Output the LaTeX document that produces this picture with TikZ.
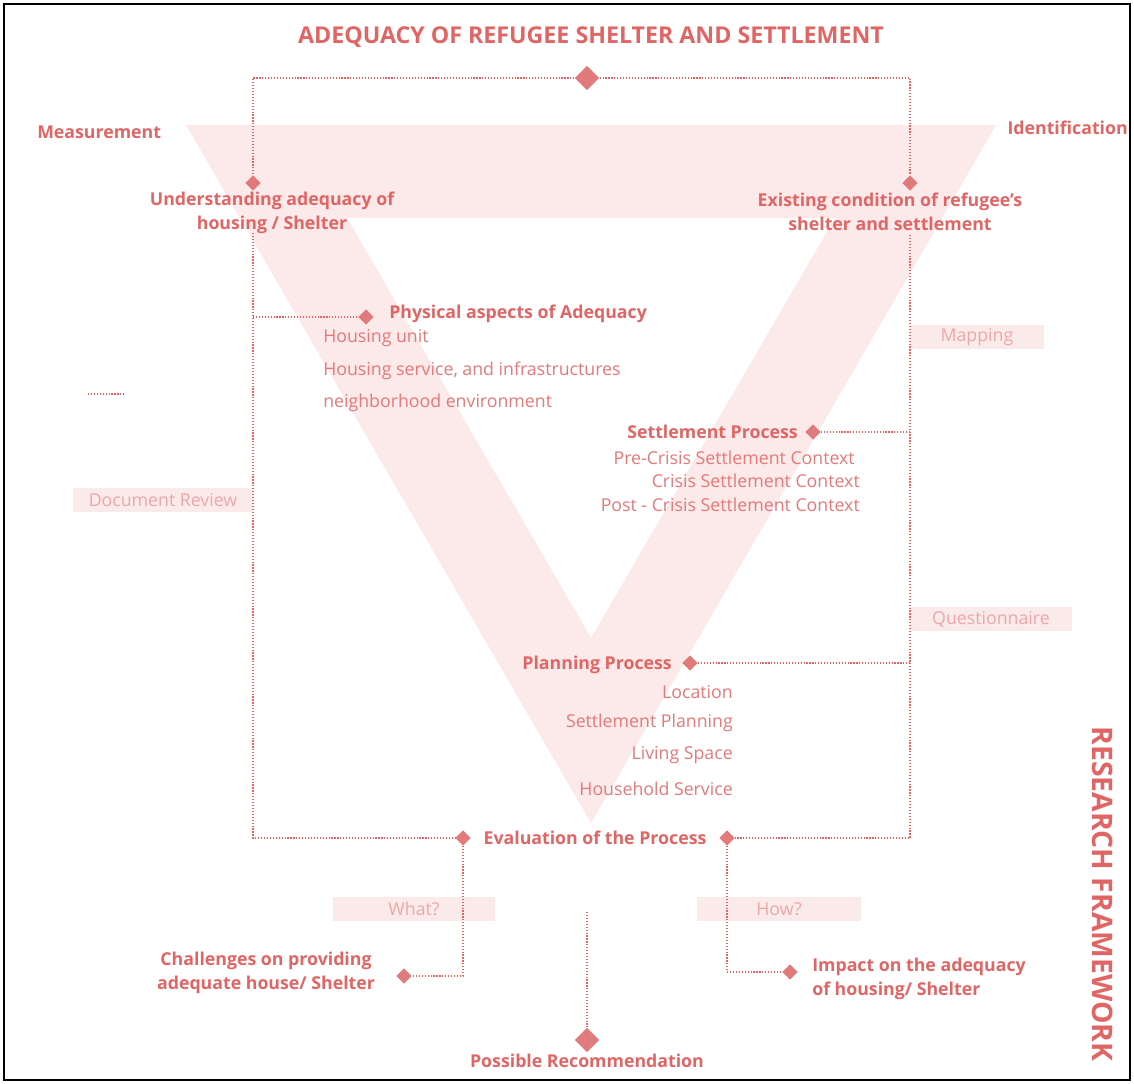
\documentclass[tikz,border=0pt]{standalone}
\usepackage{fontspec}
\setmainfont{Open Sans}
\usetikzlibrary{shapes.geometric}
\definecolor{rose}{HTML}{E06666}
\definecolor{rosetxt}{HTML}{E27A7A}
\definecolor{rosegem}{HTML}{E17A7A}
\definecolor{vpink}{HTML}{FCE9E9}
\definecolor{tagfill}{HTML}{FBEAEA}
\definecolor{tagtxt}{HTML}{EBA8A8}
\tikzset{
  dotline/.style={draw=rose, line width=1pt, dash pattern=on 0.9pt off 1.3pt},
  gem/.style={diamond, fill=rosegem, inner sep=0pt, minimum size=11.5pt},
  biggem/.style={diamond, fill=rosegem, inner sep=0pt, minimum size=18.5pt},
  headtxt/.style={text=rose, font=\bfseries\fontsize{13.3}{18}\selectfont, inner sep=0pt},
  itemtxt/.style={text=rosetxt, font=\fontsize{13.3}{15}\selectfont, inner sep=0pt},
  tagbox/.style={fill=tagfill, text=tagtxt, font=\fontsize{13.3}{15}\selectfont, inner sep=0pt}
}
\begin{document}
\begin{tikzpicture}[x=0.75pt,y=-0.75pt]
			%%%%% START %%%%%
			\useasboundingbox (0,0) rectangle (1134,1084);
			\fill[white] (0,0) rectangle (1134,1084);
			
			% the V
			\fill[vpink, even odd rule] (186,125) -- (996,125) -- (591,823) -- cycle
			  (347,218) -- (835,218) -- (591,638) -- cycle;
			
			\draw[line width=1.5pt] (4,4) rectangle (1130,1080);
			
			\node[text=rose, font=\bfseries\fontsize{17.4}{20}\selectfont] (title) at (591,37) {ADEQUACY OF REFUGEE SHELTER AND SETTLEMENT};
			\node[headtxt, anchor=west] (measure) at (37,132) {Measurement};
			\node[headtxt, anchor=east] (ident) at (1128,128) {Identification};
			
			% top
			\node[biggem] (dtop) at (587,78) {};
			\node[gem] (dunder) at (253,183) {};
			\node[gem] (dexist) at (910,183) {};
			\node[headtxt, align=center] (under) at (272,213) {Understanding adequacy of\\housing / Shelter};
			\node[headtxt, align=center] (exist) at (890,212) {Existing condition of refugee’s\\shelter and settlement};
			\coordinate (ctl) at (253,78);
			\coordinate (ctr) at (910,78);
			\draw[dotline] (dtop.west) -- (ctl) -- (dunder.north);
			\draw[dotline] (dtop.east) -- (ctr) -- (dexist.north);
			
			% side lines
			\coordinate (cl1) at (253,233);
			\coordinate (cl2) at (253,838);
			\coordinate (cr1) at (910,235);
			\coordinate (cr2) at (910,838);
			\coordinate (cphys) at (253,317);
			\coordinate (csettle) at (910,432);
			\coordinate (cplan) at (910,663);
			
			% physical
			\node[gem] (dphys) at (366,317) {};
			\node[headtxt, anchor=west] (phys) at (389,314) {Physical aspects of Adequacy};
			\node[itemtxt, anchor=west] (hunit) at (323,338) {Housing unit};
			\node[itemtxt, anchor=west] (hserv) at (323,371) {Housing service, and infrastructures};
			\node[itemtxt, anchor=west] (hneigh) at (323,403) {neighborhood environment};
			\draw[dotline] (cphys) -- (dphys.west);
			
			% settlement
			\node[gem] (dsettle) at (813,432) {};
			\node[headtxt, anchor=east] (settle) at (798,432) {Settlement Process};
			\node[itemtxt, anchor=east] (spre) at (855,458) {Pre-Crisis Settlement Context};
			\node[itemtxt, anchor=east] (scri) at (860,481) {Crisis Settlement Context};
			\node[itemtxt, anchor=east] (spost) at (860,505) {Post - Crisis Settlement Context};
			\draw[dotline] (dsettle.east) -- (csettle);
			
			% planning
			\node[gem] (dplan) at (690,663) {};
			\node[headtxt, anchor=east] (plan) at (672,665) {Planning Process};
			\node[itemtxt, anchor=east] (ploc) at (733,692) {Location};
			\node[itemtxt, anchor=east] (pset) at (733,723) {Settlement Planning};
			\node[itemtxt, anchor=east] (pliv) at (733,755) {Living Space};
			\node[itemtxt, anchor=east] (phouse) at (733,789) {Household Service};
			\draw[dotline] (dplan.east) -- (cplan);
			
			% methods
			\node[tagbox, minimum width=135pt, minimum height=18pt] (docrev) at (163,500) {Document Review};
			\node[tagbox, minimum width=100pt, minimum height=18pt, anchor=west, text width=90pt, align=center] (mapping) at (910,337) {Mapping};
			\node[tagbox, minimum width=121pt, minimum height=18pt, anchor=west, text width=100pt, align=center] (quest) at (910,619) {Questionnaire};
			\draw[dotline] (88,394) -- (125,394);
			
			% evaluation
			\node[gem] (devall) at (463,838) {};
			\node[gem] (devalr) at (727,838) {};
			\node[headtxt] (eval) at (595,838) {Evaluation of the Process};
			\draw[dotline] (cl1) -- (cl2) -- (devall.west);
			\draw[dotline] (cr1) -- (cr2) -- (devalr.east);
			
			% results
			\node[tagbox, minimum width=122pt, minimum height=18pt] (what) at (414,909) {What?};
			\node[tagbox, minimum width=123pt, minimum height=18pt] (how) at (779,909) {How?};
			\node[gem] (dchall) at (404,976) {};
			\node[gem] (dimpact) at (790,972) {};
			\node[headtxt, align=center] (chall) at (266,973) {Challenges on providing\\adequate house/ Shelter};
			\node[headtxt, align=left, anchor=west] (impact) at (812,979) {Impact on the adequacy\\of housing/ Shelter};
			\coordinate (cwhat) at (463,976);
			\coordinate (chow) at (727,972);
			\draw[dotline] (devall.south) -- (cwhat) -- (dchall.east);
			\draw[dotline] (devalr.south) -- (chow) -- (dimpact.west);
			
			\coordinate (crec) at (587,912);
			\node[biggem] (drec) at (587,1040) {};
			\node[headtxt] (rec) at (587,1061) {Possible Recommendation};
			\draw[dotline] (crec) -- (drec.north);
			
			\node[text=rose, font=\bfseries\fontsize{21.2}{24}\selectfont, rotate=-90] (frame) at (1103,894) {RESEARCH FRAMEWORK};
			%%%%% END %%%%%
\end{tikzpicture}
\end{document}
